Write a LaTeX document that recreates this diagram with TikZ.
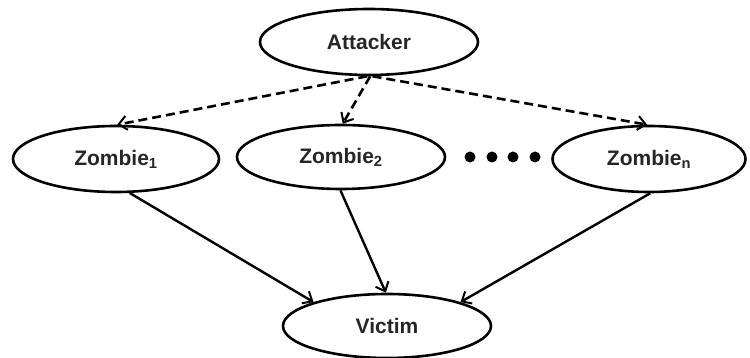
\documentclass[tikz,border=0pt]{standalone}
\usepackage{fontspec}
\setmainfont{Liberation Sans}
\usetikzlibrary{shapes.geometric,arrows.meta}
\tikzset{
  ell/.style={ellipse, draw=black, line width=2.6pt, inner sep=0pt, font=\fontsize{21}{25}\selectfont\bfseries, text=black!85},
  dasharrow/.style={draw=black, line width=2.6pt, dash pattern=on 9pt off 5pt, -{Straight Barb[length=8pt,width=14pt,line width=2pt]}},
  solidarrow/.style={draw=black, line width=2.4pt, -{Straight Barb[length=8pt,width=14pt,line width=2pt]}},
  dotmark/.style={circle, fill=black, inner sep=0pt, minimum size=11pt}
}
\begin{document}
\begin{tikzpicture}[x=1pt,y=1pt]
\useasboundingbox (0,0) rectangle (750,358);
\node[ell, minimum width=218pt, minimum height=66pt] (att) at (369,316) {Attacker};
\node[ell, minimum width=206pt, minimum height=66pt] (z1) at (116,199) {Zombie\textsubscript{1}};
\node[ell, minimum width=208pt, minimum height=64pt] (z2) at (341,201) {Zombie\textsubscript{2}};
\node[ell, minimum width=193pt, minimum height=66pt] (zn) at (649,199) {Zombie\textsubscript{n}};
\node[ell, minimum width=208pt, minimum height=64pt] (vic) at (387,32) {Victim};
\node[dotmark] (d1) at (470,201) {};
\node[dotmark] (d2) at (492,201) {};
\node[dotmark] (d3) at (513,201) {};
\node[dotmark] (d4) at (535,201) {};
\draw[dasharrow] (att.267) -- (z1.88);
\draw[dasharrow] (att.272) -- (z2.87);
\draw[dasharrow] (att.276) -- (zn.93);
\draw[solidarrow] (z1.-68) -- (vic.162);
\draw[solidarrow] (z2.-91) -- (vic.92);
\draw[solidarrow] (zn.-88) -- (vic.18);
\end{tikzpicture}
\end{document}
